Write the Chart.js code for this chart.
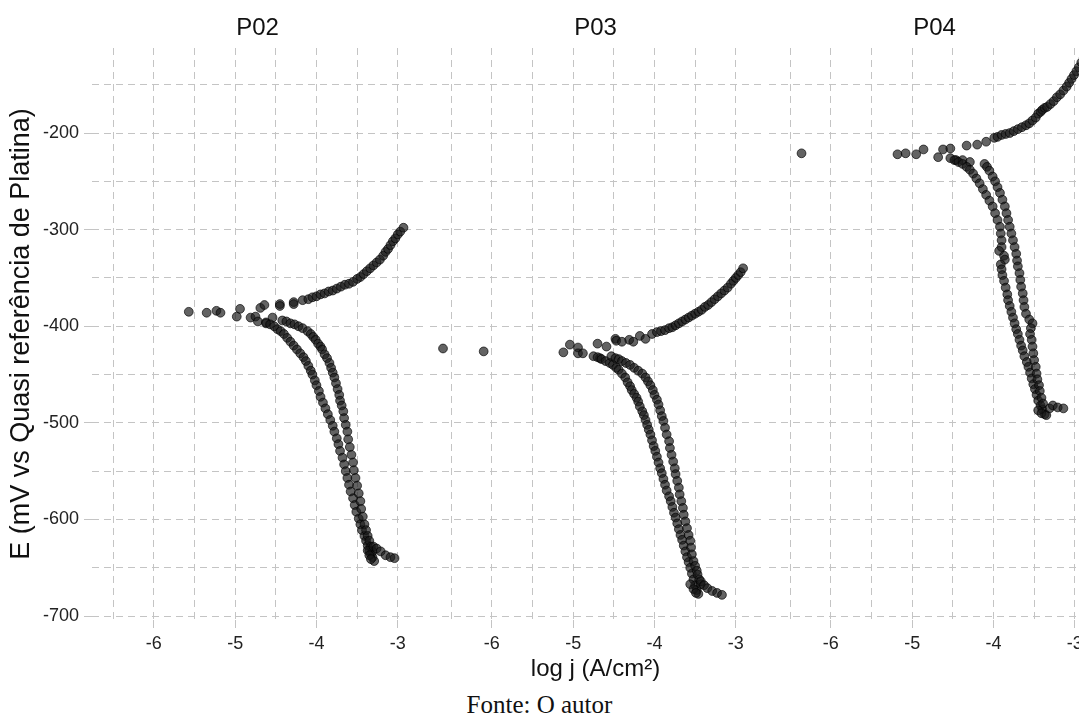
<!DOCTYPE html>
<html>
<head>
<meta charset="utf-8">
<script src="https://cdn.jsdelivr.net/npm/chart.js@4.4.1/dist/chart.umd.min.js"></script>
<style>
  html, body { margin: 0; padding: 0; background: #fff; width: 1079px; height: 728px; overflow: hidden; position: relative; }
  canvas { position: absolute; top: 0; }
  #fonte { position: absolute; left: 0; width: 1079px; top: 690px; line-height: 30px; text-align: center;
           font-family: "Liberation Serif", "DejaVu Serif", serif; font-size: 25px; color: #111; }
</style>
</head>
<body>
<canvas id="p02" width="423" height="690" style="left:0px"></canvas>
<canvas id="p03" width="331" height="690" style="left:430px"></canvas>
<canvas id="p04" width="331" height="690" style="left:769px"></canvas>
<div id="fonte">Fonte: O autor</div>
<script>
// ticks (grid every 0.5 / 50 mV, labels only on the round ones)
const xTicks = [-6.5, -6, -5.5, -5, -4.5, -4, -3.5, -3];
const yTicks = [-700, -650, -600, -550, -500, -450, -400, -350, -300, -250, -200, -150];
const xRange = [-6.76, -2.69];
const yRange = [-704, -112];

// ---- P02 ----
const p02Ecorr = [[-5.57,-385],[-5.35,-386],[-5.23,-384],[-5.18,-386],[-4.98,-390],[-4.94,-382],[-4.81,-391],
  [-4.75,-390],[-4.72,-395],[-4.69,-381],[-4.64,-378],[-4.62,-396],[-4.54,-391],[-4.45,-377],[-4.45,-379],
  [-4.28,-375],[-4.28,-377],[-4.17,-373]];
const p02Anodic = [[-4.10,-372],[-4.05,-370],[-4.00,-369],[-3.95,-367],[-3.90,-366],[-3.85,-364],[-3.80,-363],
  [-3.75,-361],[-3.70,-359],[-3.65,-357],[-3.60,-356],[-3.55,-354],[-3.50,-351],[-3.46,-349],[-3.42,-346],
  [-3.38,-343],[-3.34,-340],[-3.30,-337],[-3.26,-334],[-3.22,-331],[-3.18,-327],[-3.15,-323],[-3.12,-320],
  [-3.09,-316],[-3.06,-312],[-3.03,-309],[-3.00,-305],[-2.97,-302],[-2.93,-298]];
const p02CathodicA = [[-4.62,-397],[-4.57,-398],[-4.52,-400],[-4.48,-403],[-4.44,-405],[-4.40,-408],[-4.36,-412],
  [-4.32,-416],[-4.28,-420],[-4.24,-424],[-4.20,-428],[-4.16,-432],[-4.13,-436],[-4.10,-441],[-4.07,-446],
  [-4.05,-450],[-4.02,-456],[-4.00,-461],[-3.97,-467],[-3.95,-473],[-3.92,-479],[-3.89,-485],[-3.86,-491],
  [-3.83,-497],[-3.80,-503],[-3.78,-509],[-3.75,-516],[-3.73,-522],[-3.71,-529],[-3.68,-536],[-3.66,-543],
  [-3.64,-550],[-3.62,-557],[-3.60,-564],[-3.58,-571],[-3.55,-578],[-3.53,-585],[-3.51,-592],[-3.48,-599],
  [-3.46,-605],[-3.44,-611],[-3.41,-617],[-3.39,-622],[-3.37,-627],[-3.35,-632],[-3.33,-636],[-3.31,-639],
  [-3.29,-643]];
const p02CathodicB = [[-4.42,-394],[-4.37,-395],[-4.32,-397],[-4.27,-398],[-4.22,-400],[-4.17,-402],[-4.11,-405],
  [-4.07,-408],[-4.04,-411],[-4.01,-414],[-3.98,-418],[-3.95,-421],[-3.93,-424],[-3.90,-429],[-3.87,-433],
  [-3.84,-438],[-3.82,-443],[-3.80,-448],[-3.78,-453],[-3.76,-459],[-3.74,-465],[-3.72,-471],[-3.71,-477],
  [-3.69,-482],[-3.67,-488],[-3.66,-495],[-3.64,-502],[-3.62,-509],[-3.61,-517],[-3.59,-525],[-3.57,-533],
  [-3.55,-541],[-3.54,-549],[-3.52,-557],[-3.50,-565],[-3.48,-573],[-3.46,-581],[-3.45,-589],[-3.43,-597],
  [-3.41,-605],[-3.39,-611],[-3.37,-617],[-3.35,-622],[-3.33,-628],[-3.31,-633]];
const p02Tail = [[-3.37,-632],[-3.35,-637],[-3.33,-641],[-3.30,-628],[-3.26,-630],[-3.21,-633],[-3.15,-637],
  [-3.09,-639],[-3.04,-640]];

// ---- P03 ----
const p03Ecorr = [[-6.60,-423],[-6.10,-426],[-5.12,-427],[-5.04,-419],[-4.94,-422],[-4.94,-428],[-4.88,-428],
  [-4.70,-418],[-4.59,-421],[-4.67,-433],[-4.48,-413],[-4.47,-415],[-4.40,-416],[-4.31,-414],[-4.26,-416],
  [-4.18,-410],[-4.11,-413],[-4.03,-408]];
const p03Anodic = [[-3.97,-406],[-3.92,-405],[-3.87,-404],[-3.82,-402],[-3.78,-401],[-3.74,-399],[-3.70,-397],
  [-3.66,-395],[-3.62,-393],[-3.58,-391],[-3.54,-389],[-3.50,-387],[-3.46,-385],[-3.42,-383],[-3.38,-380],
  [-3.34,-378],[-3.30,-375],[-3.26,-372],[-3.22,-369],[-3.18,-366],[-3.14,-363],[-3.10,-360],[-3.06,-356],
  [-3.03,-353],[-3.00,-350],[-2.97,-347],[-2.94,-344],[-2.91,-340]];
const p03CathodicA = [[-4.75,-431],[-4.70,-432],[-4.65,-434],[-4.60,-436],[-4.55,-438],[-4.51,-440],[-4.47,-443],
  [-4.44,-445],[-4.40,-449],[-4.36,-453],[-4.33,-458],[-4.30,-462],[-4.28,-466],[-4.25,-470],[-4.22,-474],
  [-4.20,-478],[-4.18,-483],[-4.15,-488],[-4.13,-492],[-4.11,-497],[-4.09,-502],[-4.07,-507],[-4.05,-512],
  [-4.03,-518],[-4.01,-524],[-3.99,-529],[-3.97,-535],[-3.95,-541],[-3.93,-547],[-3.91,-552],[-3.89,-558],
  [-3.87,-564],[-3.85,-570],[-3.82,-576],[-3.80,-581],[-3.78,-587],[-3.76,-593],[-3.74,-598],[-3.72,-604],
  [-3.70,-610],[-3.68,-616],[-3.66,-621],[-3.64,-627],[-3.62,-633],[-3.60,-639],[-3.58,-644],[-3.56,-650],
  [-3.54,-656],[-3.52,-662],[-3.50,-668],[-3.48,-673],[-3.46,-677]];
const p03CathodicB = [[-4.53,-431],[-4.48,-433],[-4.44,-434],[-4.40,-436],[-4.35,-438],[-4.30,-440],[-4.25,-443],
  [-4.20,-446],[-4.15,-449],[-4.11,-453],[-4.08,-457],[-4.05,-461],[-4.02,-466],[-4.00,-471],[-3.97,-476],
  [-3.95,-481],[-3.93,-487],[-3.91,-493],[-3.89,-498],[-3.87,-505],[-3.85,-512],[-3.82,-519],[-3.81,-526],
  [-3.79,-533],[-3.77,-540],[-3.75,-547],[-3.74,-553],[-3.72,-560],[-3.70,-567],[-3.69,-574],[-3.67,-581],
  [-3.65,-588],[-3.64,-595],[-3.62,-602],[-3.60,-609],[-3.58,-616],[-3.56,-622],[-3.55,-629],[-3.54,-636],
  [-3.52,-643],[-3.50,-648],[-3.48,-653],[-3.47,-657],[-3.45,-662],[-3.43,-667]];
const p03Tail = [[-3.56,-667],[-3.52,-672],[-3.49,-676],[-3.43,-664],[-3.39,-668],[-3.35,-671],[-3.29,-674],
  [-3.23,-676],[-3.17,-678]];

// ---- P04 ----
const p04Ecorr = [[-6.36,-221],[-5.18,-222],[-5.08,-221],[-4.95,-222],[-4.86,-217],[-4.68,-225],[-4.62,-217],
  [-4.53,-216],[-4.46,-228],[-4.38,-228],[-4.33,-213],[-4.29,-230],[-4.20,-212],[-4.09,-209],[-3.99,-205]];
const p04Anodic = [[-3.95,-204],[-3.90,-202],[-3.85,-201],[-3.80,-200],[-3.75,-198],[-3.70,-196],[-3.65,-194],
  [-3.60,-192],[-3.56,-190],[-3.52,-187],[-3.48,-184],[-3.45,-180],[-3.42,-178],[-3.40,-176],[-3.37,-174],
  [-3.34,-173],[-3.30,-170],[-3.26,-167],[-3.22,-163],[-3.18,-160],[-3.14,-156],[-3.10,-152],[-3.07,-148],
  [-3.04,-144],[-3.01,-140],[-2.98,-136],[-2.95,-132],[-2.92,-127],[-2.89,-122]];
const p04CathodicA = [[-4.53,-226],[-4.48,-228],[-4.43,-230],[-4.38,-232],[-4.33,-235],[-4.29,-238],[-4.25,-242],
  [-4.21,-247],[-4.17,-252],[-4.13,-258],[-4.09,-264],[-4.05,-270],[-4.01,-276],[-3.98,-283],[-3.95,-290],
  [-3.92,-297],[-3.91,-304],[-3.90,-311],[-3.90,-318],[-3.93,-322],[-3.87,-327],[-3.86,-331],[-3.91,-336],
  [-3.90,-341],[-3.89,-347],[-3.87,-353],[-3.85,-360],[-3.83,-367],[-3.82,-373],[-3.80,-379],[-3.78,-385],
  [-3.76,-391],[-3.74,-397],[-3.72,-403],[-3.70,-408],[-3.68,-414],[-3.66,-420],[-3.64,-425],[-3.62,-431],
  [-3.59,-437],[-3.57,-442],[-3.55,-448],[-3.53,-454],[-3.51,-460],[-3.49,-465],[-3.47,-471],[-3.45,-477],
  [-3.42,-482],[-3.40,-486],[-3.37,-491]];
const p04CathodicB = [[-4.11,-232],[-4.08,-235],[-4.05,-239],[-4.01,-245],[-3.98,-250],[-3.95,-256],[-3.92,-262],
  [-3.89,-269],[-3.86,-276],[-3.84,-283],[-3.82,-290],[-3.80,-297],[-3.78,-304],[-3.76,-311],[-3.74,-318],
  [-3.72,-325],[-3.71,-332],[-3.70,-338],[-3.68,-345],[-3.67,-352],[-3.66,-359],[-3.64,-366],[-3.63,-373],
  [-3.62,-380],[-3.60,-387],[-3.56,-393],[-3.52,-397],[-3.54,-402],[-3.55,-408],[-3.53,-414],[-3.52,-421],
  [-3.51,-428],[-3.50,-435],[-3.48,-442],[-3.47,-449],[-3.46,-455],[-3.44,-461],[-3.43,-467],[-3.41,-474],
  [-3.39,-480]];
const p04Tail = [[-3.45,-487],[-3.41,-490],[-3.35,-492],[-3.31,-485],[-3.27,-482],[-3.21,-484],[-3.14,-485]];

const gridColor = "#c4c4c4";
const textColor = "#111111";
const tickColor = "#222222";
const sans = "'Liberation Sans', Arial, sans-serif";

// facet strip label above each panel
const stripTitle = {
  id: "stripTitle",
  afterDraw(chart, args, opts) {
    const { ctx, chartArea } = chart;
    ctx.save();
    ctx.font = "24px " + sans;
    ctx.fillStyle = textColor;
    ctx.textAlign = "center";
    ctx.textBaseline = "middle";
    ctx.fillText(opts.text, (chartArea.left + chartArea.right) / 2, 28);
    ctx.restore();
  },
};

function toPoints(arr) {
  return arr.map((p) => ({ x: p[0], y: p[1] }));
}

function painel(id, titulo, series, comEixoY, comTituloX) {
	const ctx = document.getElementById(id);
	return new Chart(ctx, {
		type: "scatter",
		data: {
			datasets: [
				{
					data: series.flatMap(toPoints),
					backgroundColor: "rgba(25,25,25,0.68)",
					borderColor: "rgba(0,0,0,0.65)",
					borderWidth: 1,
					pointRadius: 4.4,
				},
			],
		},
		options: {
			responsive: false,
			animation: false,
			layout: { padding: { top: 48, left: 0, right: 0, bottom: 0 }, autoPadding: false },
			plugins: {
				legend: { display: false },
				tooltip: { enabled: false },
				stripTitle: { text: titulo },
			},
			scales: {
				x: {
					type: "linear",
					min: xRange[0],
					max: xRange[1],
					afterBuildTicks: (s) => { s.ticks = xTicks.map((v) => ({ value: v })); },
					afterFit: (s) => { s.height = 70; },
					ticks: {
						autoSkip: false,
						maxRotation: 0,
						padding: 5,
						color: tickColor,
						font: { family: sans, size: 18 },
						callback: (v) => (Number.isInteger(v) ? String(v) : ""),
					},
					grid: {
						color: gridColor,
						lineWidth: 1,
						tickLength: 8,
						tickBorderDash: [],
						tickColor: (c) => (c.tick && Number.isInteger(c.tick.value) ? gridColor : "rgba(0,0,0,0)"),
					},
					// in v4 the grid dash pattern comes from border.dash
					border: { display: false, dash: [7, 5] },
					title: {
						display: comTituloX,
						text: "log j (A/cm²)",
						color: textColor,
						font: { family: sans, size: 24 },
						padding: { top: 0, bottom: 6 },
					},
				},
				y: {
					type: "linear",
					min: yRange[0],
					max: yRange[1],
					afterBuildTicks: (s) => { s.ticks = yTicks.map((v) => ({ value: v })); },
					afterFit: (s) => { s.width = comEixoY ? 92 : 0; },
					ticks: {
						display: comEixoY,
						autoSkip: false,
						padding: 5,
						color: tickColor,
						font: { family: sans, size: 18 },
						callback: (v) => (v % 100 === 0 ? String(v) : ""),
					},
					grid: {
						color: gridColor,
						lineWidth: 1,
						drawTicks: comEixoY,
						tickLength: 8,
						tickBorderDash: [],
						tickColor: (c) => (c.tick && c.tick.value % 100 === 0 ? gridColor : "rgba(0,0,0,0)"),
					},
					border: { display: false, dash: [7, 5] },
					title: {
						display: comEixoY,
						text: "E (mV vs Quasi referência de Platina)",
						color: textColor,
						font: { family: sans, size: 27 },
						padding: { top: 5, bottom: 0 },
					},
				},
			},
		},
		plugins: [stripTitle],
	});
}

painel("p02", "P02", [p02Ecorr, p02Anodic, p02CathodicA, p02CathodicB, p02Tail], true, false);
painel("p03", "P03", [p03Ecorr, p03Anodic, p03CathodicA, p03CathodicB, p03Tail], false, true);
painel("p04", "P04", [p04Ecorr, p04Anodic, p04CathodicA, p04CathodicB, p04Tail], false, false);
</script>
</body>
</html>
